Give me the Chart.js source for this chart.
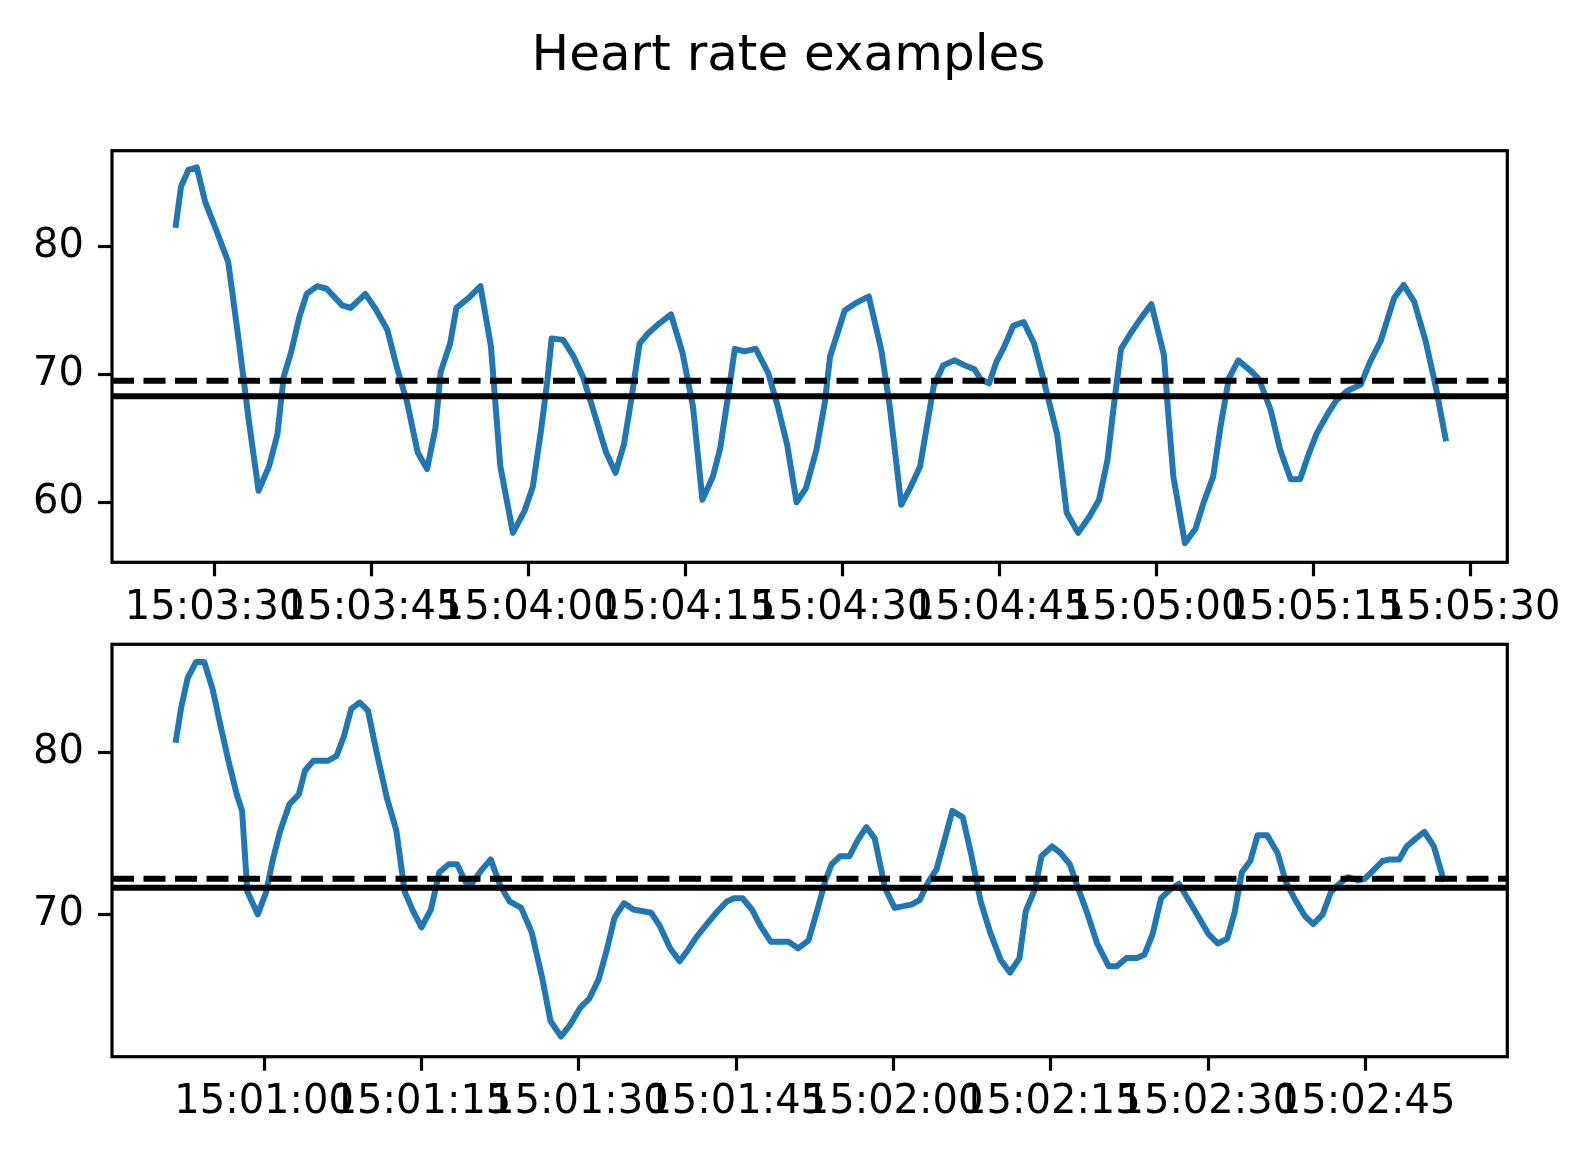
<!DOCTYPE html>
<html>
<head>
<meta charset="utf-8">
<title>Heart rate examples</title>
<script src="https://cdn.jsdelivr.net/npm/chart.js@4.4.1/dist/chart.umd.min.js"></script>
<style>
  body { margin: 0; background: #fff; }
  #fig { position: relative; width: 1593px; height: 1157px; background: #fff; }
  #title { position: absolute; left: 0; top: 28px; width: 1577px; text-align: center;
           font: 50px/50px "DejaVu Sans", sans-serif; color: #000; }
  canvas { position: absolute; left: 0; }
</style>
</head>
<body>
<div id="fig">
  <div id="title">Heart rate examples</div>
  <canvas id="topChart" width="1593" height="545" style="top:90px"></canvas>
  <canvas id="bottomChart" width="1593" height="561" style="top:596px"></canvas>
</div>
<script>
// upper panel: seconds after 15:03:00 and heart rate
var topStart = "15:03:00";
var topSeconds = [26.3, 26.8, 27.5, 28.3, 29.1, 30.2, 31.3, 32.3, 33.3, 34.2, 35.2, 36.0, 36.6, 37.3, 38.1, 38.8,
  39.8, 40.7, 42.2, 43.0, 44.4, 45.4, 46.5, 47.4, 48.4, 49.4, 50.3, 51.1, 51.6, 52.5, 53.1, 54.3, 55.4, 56.4,
  57.3, 58.5, 59.6, 60.4, 61.2, 61.8, 62.2, 63.3, 64.3, 65.2, 66.3, 67.4, 68.3, 69.1, 69.8, 70.6, 71.4, 72.5,
  73.6, 74.7, 75.7, 76.6, 77.6, 78.3, 79.0, 79.7, 80.6, 81.7, 82.9, 83.8, 84.7, 85.6, 86.5, 87.5, 88.3, 88.8,
  90.2, 91.3, 92.5, 93.7, 94.5, 95.6, 96.5, 97.4, 98.0, 98.7, 99.6, 100.7, 101.7, 102.6, 103.2, 104.0, 104.7,
  105.4, 106.3, 107.3, 108.3, 109.1, 110.5, 111.4, 112.5, 113.6, 114.5, 115.3, 115.9, 116.6, 117.5, 118.5,
  119.5, 120.7, 121.1, 121.6, 122.7, 123.7, 124.5, 125.4, 126.1, 126.9, 127.8, 129.1, 129.8, 130.9, 131.8,
  132.8, 133.7, 134.5, 135.3, 136.4, 137.2, 138.2, 139.5, 140.4, 141.4, 142.7, 143.6, 144.6, 145.7, 146.7, 147.6];
var topHeartRate = [81.7, 84.7, 86.0, 86.2, 83.5, 81.2, 78.8, 72.7, 66.2, 60.9, 62.8, 65.3, 69.8, 71.7, 74.5, 76.3,
  76.9, 76.7, 75.4, 75.2, 76.3, 75.1, 73.5, 70.6, 67.8, 63.9, 62.6, 65.8, 70.2, 72.4, 75.2, 76.0, 76.9, 72.2,
  62.8, 57.6, 59.3, 61.2, 65.7, 69.6, 72.8, 72.7, 71.4, 69.8, 66.9, 63.9, 62.3, 64.5, 68.0, 72.4, 73.2, 74.0,
  74.7, 71.7, 67.5, 60.2, 62.0, 64.2, 68.0, 72.0, 71.8, 72.0, 70.1, 67.5, 64.5, 60.0, 61.1, 64.1, 67.8, 71.4,
  75.0, 75.6, 76.1, 71.9, 67.5, 59.8, 61.2, 62.8, 65.7, 69.1, 70.7, 71.1, 70.7, 70.4, 69.6, 69.3, 71.0,
  72.1, 73.8, 74.1, 72.4, 69.9, 65.3, 59.2, 57.6, 58.9, 60.2, 63.3, 67.5, 72.0, 73.2, 74.4,
  75.5, 71.5, 67.0, 62.0, 56.8, 57.9, 60.0, 62.0, 65.9, 69.7, 71.1, 70.2, 69.6, 67.2, 64.1,
  61.8, 61.8, 63.7, 65.4, 67.0, 68.0, 68.7, 69.2, 71.0, 72.6, 76.0, 77.0, 75.7, 72.6, 68.9, 65.0];
var topSolidLevel = 68.3;
var topDashedLevel = 69.5;
var topTickLabels = ["15:03:30", "15:03:45", "15:04:00", "15:04:15", "15:04:30", "15:04:45", "15:05:00", "15:05:15", "15:05:30"];
var topYTicks = [60, 70, 80];
var topXLimits = [20.2, 153.5];
var topYLimits = [55.3, 87.5];

// lower panel: seconds after 15:00:00 and heart rate
var bottomStart = "15:00:00";
var bottomSeconds = [51.6, 52.1, 52.7, 53.5, 54.3, 55.1, 55.8, 56.6, 57.4, 57.9, 58.4, 59.4, 60.2, 60.8, 61.5,
  62.4, 63.3, 63.9, 64.7, 66.1, 66.9, 67.6, 68.3, 69.1, 69.9, 70.7, 71.7, 72.6, 73.4, 74.2, 75.0, 75.9, 76.7,
  77.6, 78.4, 79.2, 79.9, 80.8, 81.6, 82.5, 83.4, 84.5, 85.5, 86.5, 87.3, 88.3, 89.2, 90.1, 91.0, 91.9, 92.7,
  93.4, 94.3, 95.2, 96.9, 97.7, 98.7, 99.6, 100.4, 101.2, 102.2, 103.1, 104.1, 104.8, 105.6, 106.5, 107.3,
  108.3, 110.0, 110.9, 111.9, 112.7, 113.5, 114.1, 114.9, 115.8, 116.6, 117.4, 118.2, 119.2, 120.1, 121.7,
  122.5, 123.3, 124.1, 124.9, 125.6, 126.6, 127.4, 128.3, 129.2, 130.2, 131.1, 132.0, 132.6, 133.5, 134.1,
  135.1, 135.9, 136.8, 137.6, 138.5, 139.4, 140.5, 141.3, 142.2, 143.2, 143.9, 144.7, 145.5, 146.3, 147.2,
  148.2, 149.2, 150.0, 150.9, 151.8, 152.5, 153.2, 154.0, 154.7, 155.6, 156.6, 157.4, 158.2, 159.2, 160.0,
  160.9, 161.7, 162.5, 163.3, 164.3, 164.9, 165.7, 166.6, 167.3, 168.2, 168.9, 169.8, 170.6, 171.5, 172.4];
var bottomHeartRate = [80.8, 82.8, 84.6, 85.6, 85.6, 83.9, 81.8, 79.5, 77.4, 76.4, 71.4, 70.0, 71.4, 73.3, 75.1,
  76.8, 77.4, 78.9, 79.5, 79.5, 79.8, 81.0, 82.7, 83.1, 82.6, 80.1, 77.2, 75.2, 71.4, 70.2, 69.2, 70.3, 72.6,
  73.1, 73.1, 72.0, 72.0, 72.8, 73.4, 71.8, 70.8, 70.4, 68.9, 66.1, 63.4, 62.45, 63.2, 64.2, 64.8, 66.0, 67.9,
  69.8, 70.7, 70.3, 70.1, 69.3, 67.9, 67.1, 67.8, 68.6, 69.4, 70.1, 70.8, 71.0, 71.0, 70.3, 69.3,
  68.3, 68.3, 67.9, 68.4, 70.2, 72.1, 73.1, 73.6, 73.6, 74.6, 75.4, 74.7, 71.6, 70.4, 70.6,
  70.9, 72.0, 72.8, 74.7, 76.4, 76.0, 73.7, 70.8, 68.9, 67.2, 66.4, 67.3, 70.2, 71.6, 73.6,
  74.2, 73.8, 73.1, 71.6, 70.0, 68.2, 66.8, 66.8, 67.3, 67.3, 67.5, 68.8, 71.0, 71.5, 71.9,
  70.8, 69.7, 68.8, 68.2, 68.5, 70.1, 72.6, 73.3, 74.9, 74.9, 73.8, 72.0, 71.0, 69.9, 69.4,
  70.0, 71.4, 71.9, 72.3, 72.1, 72.2, 72.7, 73.3, 73.4, 73.4, 74.2, 74.7, 75.1, 74.2, 72.2];
var bottomSolidLevel = 71.65;
var bottomDashedLevel = 72.2;
var bottomTickLabels = ["15:01:00", "15:01:15", "15:01:30", "15:01:45", "15:02:00", "15:02:15", "15:02:30", "15:02:45"];
var bottomYTicks = [70, 80];
var bottomXLimits = [45.5, 178.5];
var bottomYLimits = [61.2, 86.7];

var blue = "#1f77b4";
var tickFont = { family: "DejaVu Sans", size: 40 };

function toSeconds(hms) {
    var p = hms.split(":");
    return Number(p[0]) * 3600 + Number(p[1]) * 60 + Number(p[2]);
}

function two(n) { return (n < 10 ? "0" : "") + n; }

function toClock(sec) {
    sec = Math.round(sec);
    return two(Math.floor(sec / 3600)) + ":" + two(Math.floor(sec % 3600 / 60)) + ":" + two(sec % 60);
}

// matplotlib style box round the axes
var frame = {
    id: "frame",
    afterDatasetsDraw: function (chart) {
        var a = chart.chartArea, ctx = chart.ctx;
        ctx.save();
        ctx.strokeStyle = "#000";
        ctx.lineWidth = 3.2;
        ctx.strokeRect(a.left, a.top, a.right - a.left, a.bottom - a.top);
        ctx.restore();
    }
};

function buildChart(canvasId, start, seconds, rates, solid, dashed, tickLabels, yTicks, xLimits, yLimits, padTop, xAxisHeight) {
    var t0 = toSeconds(start);
    var xmin = t0 + xLimits[0], xmax = t0 + xLimits[1];
    var points = seconds.map(function (s, i) { return { x: t0 + s, y: rates[i] }; });
    var xTicks = tickLabels.map(toSeconds);

    var config = {
        type: "line",
        data: {
            datasets: [
                {
                    data: [{ x: xmin, y: dashed }, { x: xmax, y: dashed }],
                    borderColor: "#000", borderWidth: 6, borderDash: [22, 9.5], borderCapStyle: "butt",
                    pointRadius: 0
                },
                {
                    data: [{ x: xmin, y: solid }, { x: xmax, y: solid }],
                    borderColor: "#000", borderWidth: 6, borderCapStyle: "butt",
                    pointRadius: 0
                },
                {
                    data: points,
                    borderColor: blue, borderWidth: 6, borderJoinStyle: "round", borderCapStyle: "square",
                    pointRadius: 0, tension: 0
                }
            ]
        },
        options: {
            animation: false,
            responsive: false,
            devicePixelRatio: 1,
            layout: { padding: { top: padTop, left: 0, right: 85.7, bottom: 0 } },
            plugins: { legend: { display: false }, tooltip: { enabled: false } },
            scales: {
                x: {
                    type: "linear", min: xmin, max: xmax,
                    border: { display: false },
                    grid: { drawOnChartArea: false, drawTicks: true, tickLength: 14, tickWidth: 3.2, tickColor: "#000" },
                    ticks: {
                        autoSkip: false, maxRotation: 0, minRotation: 0, padding: 8, color: "#000", font: tickFont,
                        callback: function (v) { return toClock(v); }
                    },
                    afterBuildTicks: function (s) { s.ticks = xTicks.map(function (v) { return { value: v }; }); },
                    afterFit: function (s) { s.height = xAxisHeight; }
                },
                y: {
                    type: "linear", min: yLimits[0], max: yLimits[1],
                    border: { display: false },
                    grid: { drawOnChartArea: false, drawTicks: true, tickLength: 14, tickWidth: 3.2, tickColor: "#000" },
                    ticks: { padding: 14, color: "#000", font: tickFont },
                    afterBuildTicks: function (s) { s.ticks = yTicks.map(function (v) { return { value: v }; }); },
                    afterFit: function (s) { s.width = 112; }
                }
            }
        },
        plugins: [frame]
    };
    return new Chart(document.getElementById(canvasId), config);
}

var topChart = buildChart("topChart", topStart, topSeconds, topHeartRate, topSolidLevel, topDashedLevel,
    topTickLabels, topYTicks, topXLimits, topYLimits, 60.7, 72.7);
var bottomChart = buildChart("bottomChart", bottomStart, bottomSeconds, bottomHeartRate, bottomSolidLevel, bottomDashedLevel,
    bottomTickLabels, bottomYTicks, bottomXLimits, bottomYLimits, 48.3, 100.3);
</script>
</body>
</html>
